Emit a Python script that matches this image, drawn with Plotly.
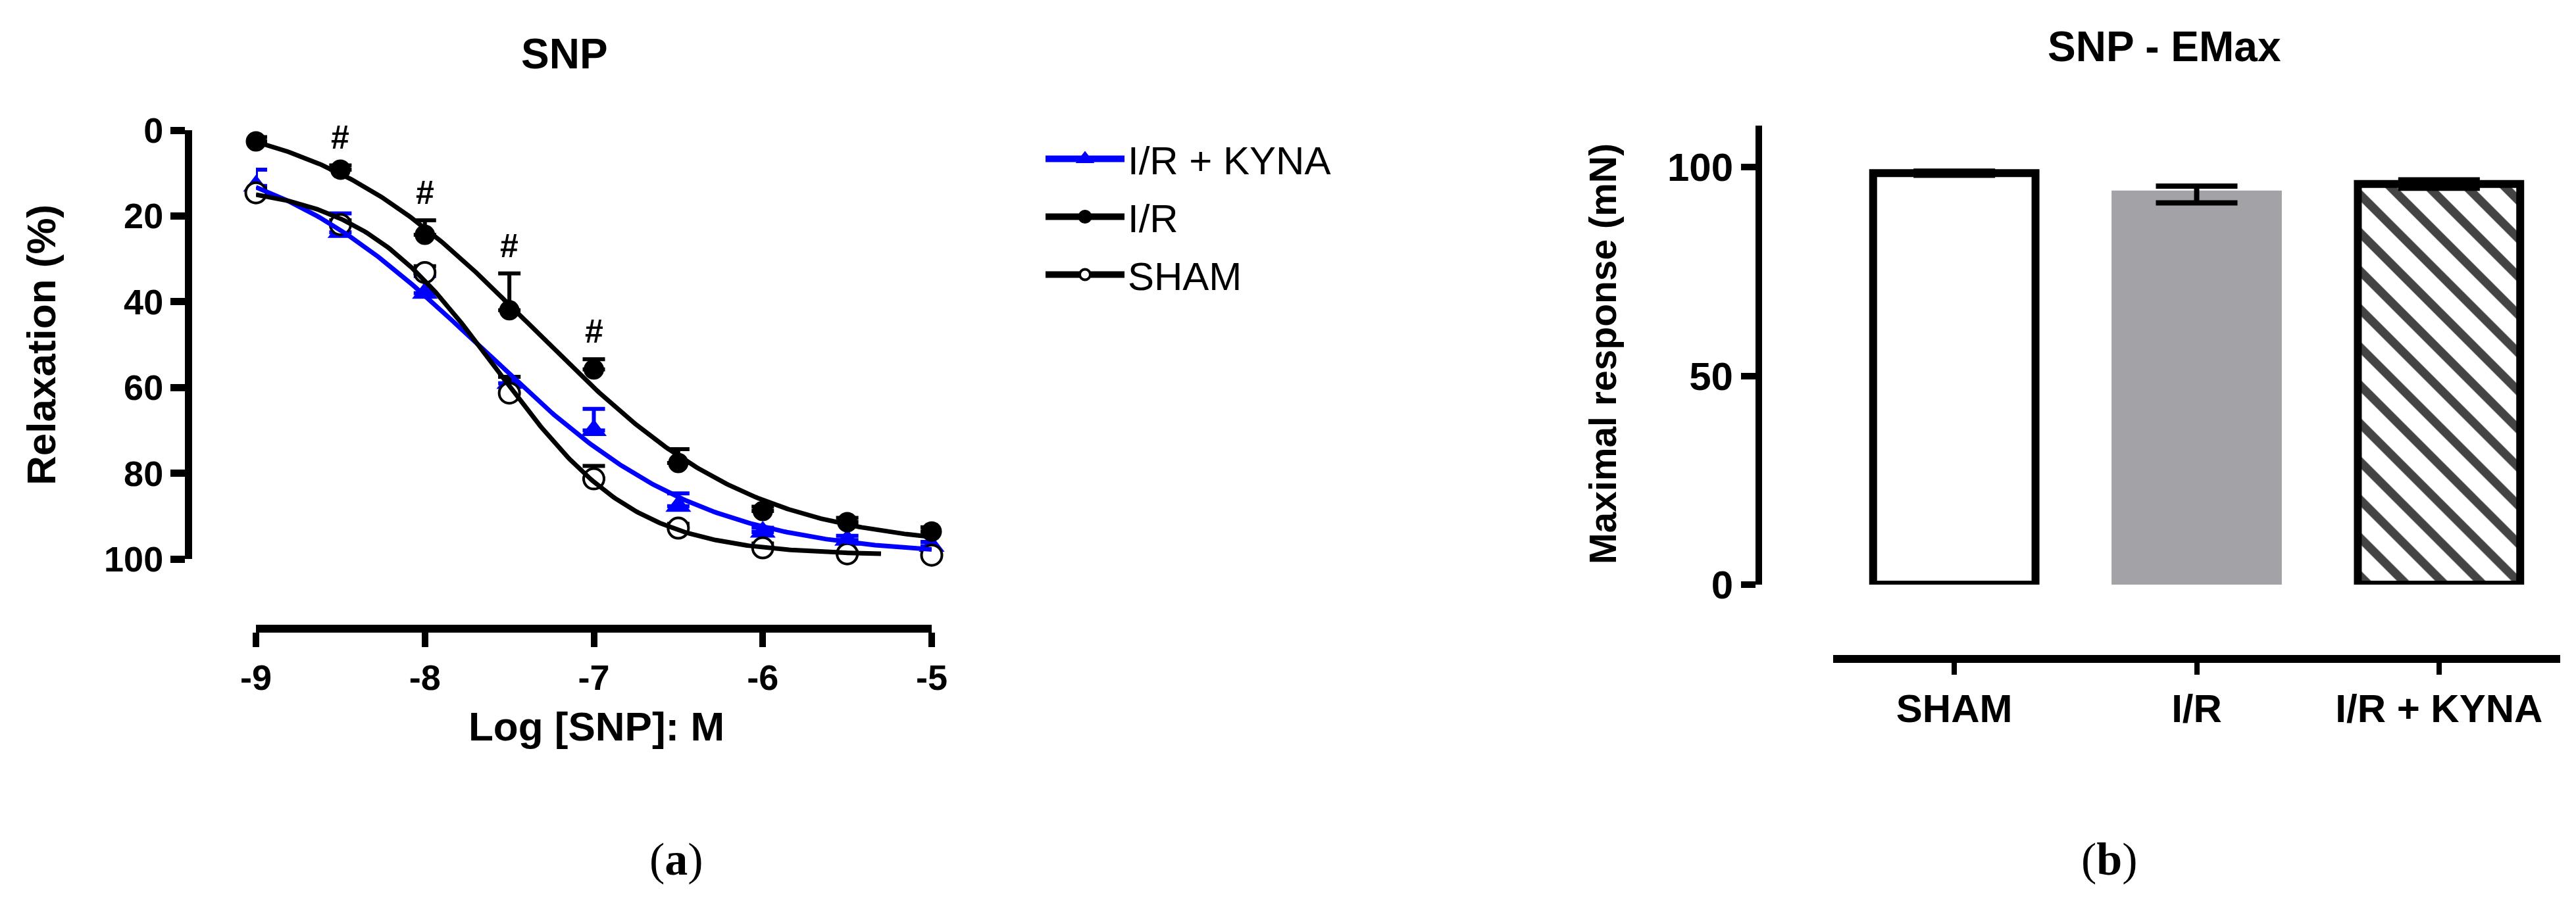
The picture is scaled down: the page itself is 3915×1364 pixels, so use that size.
import numpy as np
import plotly.graph_objects as go

# ---------------- data ----------------
log_conc = [-9, -8.5, -8, -7.5, -7, -6.5, -6, -5.5, -5]

ir_kyna = [13.0, 23.8, 38.0, 59.0, 70.0, 87.7, 93.7, 95.6, 97.0]
ir_kyna_sem = [3.8, 4.4, 4.0, 1.5, 5.0, 3.0, 1.0, 1.0, 1.0]

ir = [2.6, 9.2, 24.4, 42.0, 55.8, 77.6, 88.8, 91.4, 93.6]
ir_sem = [1.0, 1.0, 3.4, 8.6, 2.4, 3.2, 1.0, 1.0, 1.0]

sham = [14.6, 22.0, 33.2, 61.3, 81.3, 92.8, 97.4, 98.8, 99.1]
sham_sem = [1.0, 1.0, 1.5, 3.8, 3.0, 1.0, 1.0, 0.5, 0.5]

ir_sig = ['', '#', '#', '#', '#', '', '', '', '']

curve_end = {'I/R + KYNA': -5.0, 'I/R': -5.0, 'SHAM': -5.3}

x_tickvals = [-9, -8, -7, -6, -5]
x_ticktext = ['-9', '-8', '-7', '-6', '-5']
y_tickvals = [0, 20, 40, 60, 80, 100]

groups = ['SHAM', 'I/R', 'I/R + KYNA']
emax = [98.6, 93.5, 96.0]
emax_sem = [0.5, 2.0, 1.0]
emax_ticks = [0, 50, 100]

# ---------------- helpers ----------------
W, H = 3915, 1364
def px(x):
    return x / W
def py(y):
    return 1 - y / H

FONT = 'Liberation Sans, Arial, sans-serif'
SERIF = 'Liberation Serif, Times New Roman, serif'
BLUE = '#0000FF'
GRAY = '#A3A2A7'


def fit4pl(x, y):
    """least-squares 4-parameter logistic fit (grid over EC50/Hill, linear for bottom/top)"""
    x = np.asarray(x, float)
    y = np.asarray(y, float)
    ec = np.arange(-9.5, -4.5, 0.005)[:, None, None]
    hs = np.arange(0.3, 2.5, 0.01)[None, :, None]
    s = 1.0 / (1.0 + 10 ** ((ec - x[None, None, :]) * hs))
    sm = s.mean(axis=2, keepdims=True)
    ym = y.mean()
    cov = ((s - sm) * (y - ym)).sum(axis=2, keepdims=True)
    var = ((s - sm) ** 2).sum(axis=2, keepdims=True)
    m = cov / var
    b = ym - m * sm
    sse = ((b + m * s - y) ** 2).sum(axis=2)
    i, j = np.unravel_index(np.argmin(sse), sse.shape)
    e0 = ec[i, 0, 0]
    h0 = hs[0, j, 0]
    bottom = b[i, j, 0]
    span = m[i, j, 0]
    return lambda xx: bottom + span / (1.0 + 10 ** ((e0 - xx) * h0))


series = [
    dict(name='I/R + KYNA', y=ir_kyna, sem=ir_kyna_sem, color=BLUE,
         marker=dict(symbol='triangle-up', size=34, color=BLUE, line=dict(width=0)),
         legmarker=dict(symbol='triangle-up', size=16, color=BLUE, line=dict(width=5, color=BLUE))),
    dict(name='I/R', y=ir, sem=ir_sem, color='black',
         marker=dict(symbol='circle', size=31, color='black', line=dict(width=0)),
         legmarker=dict(symbol='circle', size=16, color='black', line=dict(width=5, color='black'))),
    dict(name='SHAM', y=sham, sem=sham_sem, color='black',
         marker=dict(symbol='circle', size=31, color='white', line=dict(width=4, color='black')),
         legmarker=dict(symbol='circle', size=16, color='white', line=dict(width=4, color='black'))),
]

fig = go.Figure()

# legend-only traces (order as in reference)
for s in series:
    fig.add_trace(go.Scatter(
        x=[None], y=[None], mode='lines+markers', name=s['name'],
        line=dict(color=s['color'], width=10), marker=s['legmarker'],
        legendgroup=s['name'], xaxis='x', yaxis='y'))

# data points with one-sided SEM bars
for s in series:
    fig.add_trace(go.Scatter(
        x=log_conc, y=s['y'], mode='markers', marker=s['marker'],
        error_y=dict(type='data', symmetric=False, array=[0] * len(s['sem']),
                     arrayminus=s['sem'], color=s['color'], thickness=6, width=17),
        showlegend=False, legendgroup=s['name'], cliponaxis=False,
        xaxis='x', yaxis='y'))

# fitted sigmoid curves
for s in series:
    f = fit4pl(log_conc, s['y'])
    xx = np.linspace(log_conc[0], curve_end[s['name']], 300)
    fig.add_trace(go.Scatter(
        x=xx, y=f(xx), mode='lines', line=dict(color=s['color'], width=7),
        showlegend=False, legendgroup=s['name'], cliponaxis=False,
        xaxis='x', yaxis='y'))

# significance marks
for xv, yv, ev, sg in zip(log_conc, ir, ir_sem, ir_sig):
    if sg:
        fig.add_annotation(x=xv, y=yv - ev, xref='x', yref='y', text=sg,
                           showarrow=False, yanchor='bottom', yshift=12,
                           font=dict(family=FONT, size=50, color='black', weight='bold'))

# bar chart
fig.add_trace(go.Bar(
    x=groups, y=emax, width=0.67,
    marker=dict(color=['white', GRAY, 'white'],
                line=dict(color=['black', GRAY, 'black'], width=12),
                pattern=dict(shape=['', '', '\\'], fgcolor='black', fgopacity=1,
                             fillmode='overlay', size=41, solidity=0.32)),
    error_y=dict(type='data', array=emax_sem, color='black', thickness=8, width=62),
    showlegend=False, cliponaxis=False, xaxis='x2', yaxis='y2'))

tick_font_l = dict(family=FONT, size=54, color='black', weight='bold')
tick_font_r = dict(family=FONT, size=60, color='black', weight='bold')

common_axis = dict(automargin=False, showgrid=False, zeroline=False, showline=True,
                   linecolor='black', ticks='outside', tickcolor='black')

fig.update_layout(
    template='none',
    width=W, height=H, margin=dict(l=0, r=0, t=0, b=0, pad=0, autoexpand=False),
    paper_bgcolor='white', plot_bgcolor='rgba(0,0,0,0)',
    font=dict(family=FONT, color='black'),
    showlegend=True,
    legend=dict(x=px(1576), y=py(188), xanchor='left', yanchor='top',
                font=dict(family=FONT, size=60, color='black'),
                itemwidth=120, traceorder='grouped', tracegroupgap=7,
                bgcolor='rgba(0,0,0,0)', borderwidth=0),
    xaxis=dict(common_axis, domain=[px(381), px(1408)], range=[-9, -5], anchor='free',
               position=py(948), linewidth=12, ticklen=22, tickwidth=10,
               tickvals=x_tickvals, ticktext=x_ticktext, tickfont=tick_font_l),
    yaxis=dict(common_axis, domain=[py(842), py(190)], range=[100, 0], anchor='free',
               position=px(278), linewidth=11, ticklen=22, tickwidth=11,
               tickvals=y_tickvals, tickfont=tick_font_l),
    xaxis2=dict(common_axis, domain=[px(2778), px(3883)], range=[-0.5, 2.5], anchor='free',
                position=py(994), type='category', linewidth=12, ticklen=18, tickwidth=8,
                tickfont=tick_font_r),
    yaxis2=dict(common_axis, domain=[py(881), py(183)], range=[0, 110], anchor='free',
                position=px(2665), linewidth=10, ticklen=22, tickwidth=10,
                tickvals=emax_ticks, tickfont=tick_font_r),
)

def label(text, x, y, size, angle=0, family=FONT, weight='bold'):
    fig.add_annotation(text=text, x=px(x), y=py(y), xref='paper', yref='paper',
                       showarrow=False, textangle=angle, xanchor='center', yanchor='middle',
                       font=dict(family=family, size=size, color='black', weight=weight))

label('SNP', 850, 74, 64)
label('SNP - EMax', 3281, 63, 64)
label('Relaxation (%)', 54, 517, 62, angle=-90)
label('Log [SNP]: M', 898, 1096, 62)
label('Maximal response (mN)', 2428, 530, 57, angle=-90)
label('(<b>a</b>)', 1020, 1298, 70, family=SERIF, weight='normal')
label('(<b>b</b>)', 3198, 1298, 70, family=SERIF, weight='normal')

fig.write_html('out.html')
